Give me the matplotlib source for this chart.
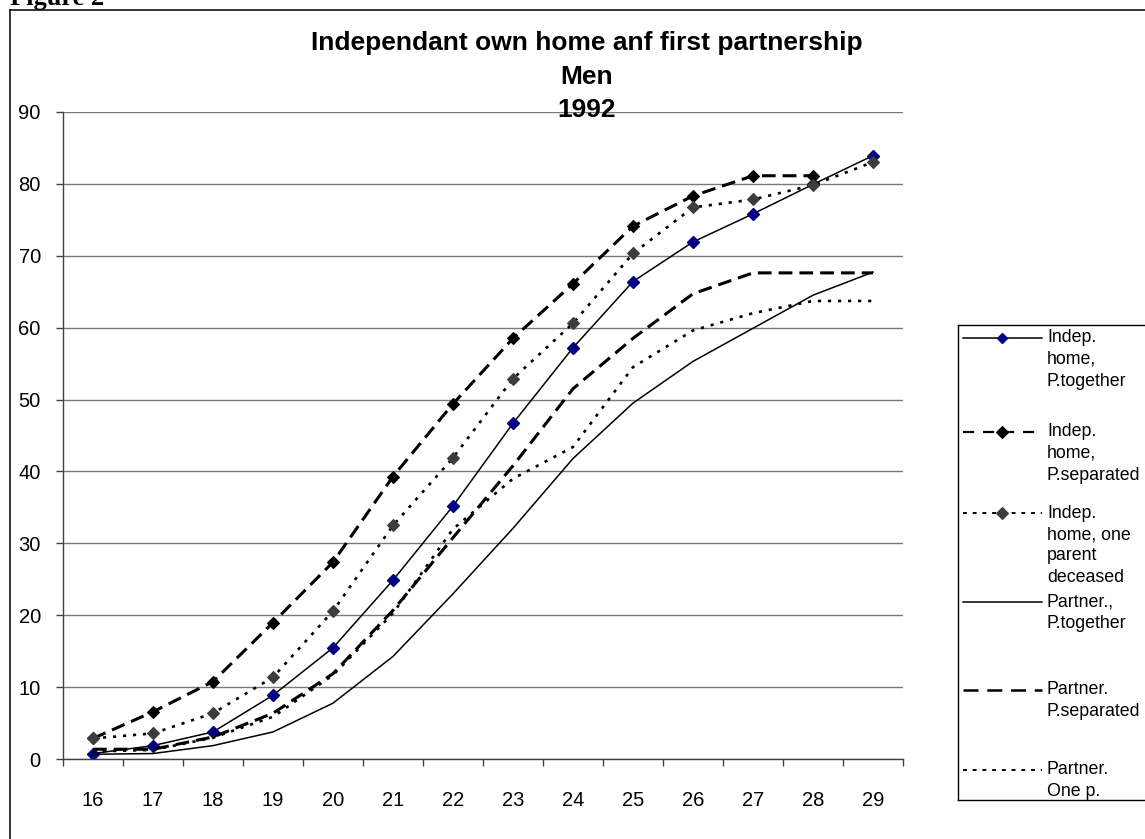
import numpy as np
import matplotlib
matplotlib.use("Agg")
import matplotlib.pyplot as plt
from matplotlib.lines import Line2D

plt.rcParams['font.family'] = ['Liberation Sans', 'DejaVu Sans']

# ---- data -------------------------------------------------------------
ages = [16, 17, 18, 19, 20, 21, 22, 23, 24, 25, 26, 27, 28, 29]

indep_together = [0.8, 1.9, 3.8, 8.9, 15.5, 24.9, 35.2, 46.7, 57.2, 66.4, 71.9, 75.8, 79.9, 83.9]
indep_separated = [2.9, 6.6, 10.8, 19.0, 27.4, 39.3, 49.4, 58.5, 66.1, 74.1, 78.3, 81.1, 81.1, np.nan]
indep_one_deceased = [2.9, 3.6, 6.4, 11.4, 20.6, 32.5, 41.9, 52.9, 60.6, 70.3, 76.7, 77.8, 79.8, 83.0]
partner_together = [0.7, 0.8, 1.9, 3.8, 7.8, 14.3, 23.0, 32.1, 41.8, 49.5, 55.3, 59.9, 64.5, 67.7]
partner_separated = [1.4, 1.4, 3.1, 6.4, 11.9, 20.7, 30.8, 40.8, 51.5, 58.5, 64.7, 67.6, 67.6, 67.6]
partner_one_p = [1.1, 1.3, 3.0, 5.9, 11.7, 20.3, 32.0, 39.0, 43.4, 54.5, 59.6, 62.0, 63.7, 63.7]

legend_labels = [
    ["Indep.", "home,", "P.together"],
    ["Indep.", "home,", "P.separated"],
    ["Indep.", "home, one", "parent", "deceased"],
    ["Partner.,", "P.together"],
    ["Partner.", "P.separated"],
    ["Partner.", "One p."],
]

title_lines = ["Independant own home anf first partnership", "Men", "1992"]
y_ticks = [0, 10, 20, 30, 40, 50, 60, 70, 80, 90]

# ---- styles -----------------------------------------------------------
NAVY = '#000080'
GREY_MK = '#3c3c3c'
styles = [
    dict(color='black', lw=1.1, ls='-', marker='D', ms=6, mfc=NAVY, mec=NAVY, mew=1.0),
    dict(color='black', lw=2.2, ls=(0, (4.5, 2.3)), marker='D', ms=6.5, mfc='black', mec='black', mew=0.8),
    dict(color='black', lw=1.9, ls=(0, (1.2, 2.6)), marker='D', ms=6.5, mfc=GREY_MK, mec=GREY_MK, mew=0.8),
    dict(color='black', lw=1.1, ls='-', marker=None),
    dict(color='black', lw=2.2, ls=(0, (4.5, 2.3)), marker=None),
    dict(color='black', lw=1.9, ls=(0, (1.2, 2.6)), marker=None),
]
series = [indep_together, indep_separated, indep_one_deceased,
          partner_together, partner_separated, partner_one_p]

W, H = 1145, 839
fig = plt.figure(figsize=(W / 100, H / 100), dpi=100)


def fx(px):
    return px / W


def fy(py):
    return 1 - py / H


# outer chart frame (runs past the right and bottom edges)
fig.add_artist(Line2D([fx(10), fx(10)], [fy(9.5), fy(845)], color='black', lw=1.1,
                      transform=fig.transFigure))
fig.add_artist(Line2D([fx(10), fx(1150)], [fy(9.5), fy(9.5)], color='black', lw=1.1,
                      transform=fig.transFigure))
fig.text(fx(10), fy(5), "Figure 2", family=['Liberation Serif', 'DejaVu Serif'],
         weight='bold', fontsize=19, ha='left', va='baseline')

# ---- main plot ---------------------------------------------------------
L, R, T, B = 63, 903, 111.7, 759.3
ax = fig.add_axes([fx(L), fy(B), fx(R) - fx(L), fy(T) - fy(B)])
x = np.arange(len(ages))
for vals, st in zip(series, styles):
    ax.plot(x, vals, **st, dash_capstyle='butt', solid_joinstyle='miter')

ax.set_xlim(-0.5, len(ages) - 0.5)
ax.set_ylim(0, 90)
ax.set_yticks(y_ticks)
ax.set_yticklabels([str(v) for v in y_ticks], fontsize=14.5)
ax.set_xticks(x)
ax.set_xticklabels([str(a) for a in ages], fontsize=14.5)
ax.set_xticks(np.arange(-0.5, len(ages)), minor=True)
ax.tick_params(axis='x', which='major', length=0, pad=23)
ax.tick_params(axis='x', which='minor', length=5, width=1, color='#404040', direction='out')
ax.tick_params(axis='y', which='major', length=5, width=1, color='#404040', direction='out', pad=11)
ax.grid(axis='y', color='#7a7a7a', lw=1.0)
ax.set_axisbelow(True)
for s in ('top', 'right'):
    ax.spines[s].set_visible(False)
for s in ('left', 'bottom'):
    ax.spines[s].set_color('#404040')
    ax.spines[s].set_linewidth(1.0)

# title, centred on the chart area
for i, line in enumerate(title_lines):
    fig.text(fx(587), fy(43 + 33.5 * i), line, fontsize=19, weight='bold',
             ha='center', va='center')

# ---- legend -----------------------------------------------------------
lx0, lx1, ly0, ly1 = 958, 1148, 325, 800
lax = fig.add_axes([fx(lx0), fy(ly1), fx(lx1) - fx(lx0), fy(ly0) - fy(ly1)])
lax.set_xlim(lx0, lx1)
lax.set_ylim(ly1, ly0)
lax.set_xticks([])
lax.set_yticks([])
for s in lax.spines.values():
    s.set_color('black')
    s.set_linewidth(1.0)

legend_styles = [
    dict(color='black', lw=1.1, ls='-'),
    dict(color='black', lw=1.6, ls=(0, (5, 4))),
    dict(color='black', lw=1.4, ls=(0, (2, 3))),
    dict(color='black', lw=1.1, ls='-'),
    dict(color='black', lw=1.8, ls=(0, (6, 3.5))),
    dict(color='black', lw=1.4, ls=(0, (2, 3))),
]
entry_y = [338, 432, 513, 602, 690, 770]
for ey, st, lst, lines in zip(entry_y, styles, legend_styles, legend_labels):
    lax.plot([963, 1042], [ey, ey], **lst, dash_capstyle='butt')
    if st.get('marker'):
        lax.plot([1002], [ey], marker=st['marker'], ms=st['ms'] - 0.5, mfc=st['mfc'],
                 mec=st['mec'], mew=st['mew'], ls='none')
    for k, txt in enumerate(lines):
        lax.text(1047, ey + 21.5 * k, txt, fontsize=12.8, ha='left', va='center')

fig.savefig("out.png", dpi=100)
